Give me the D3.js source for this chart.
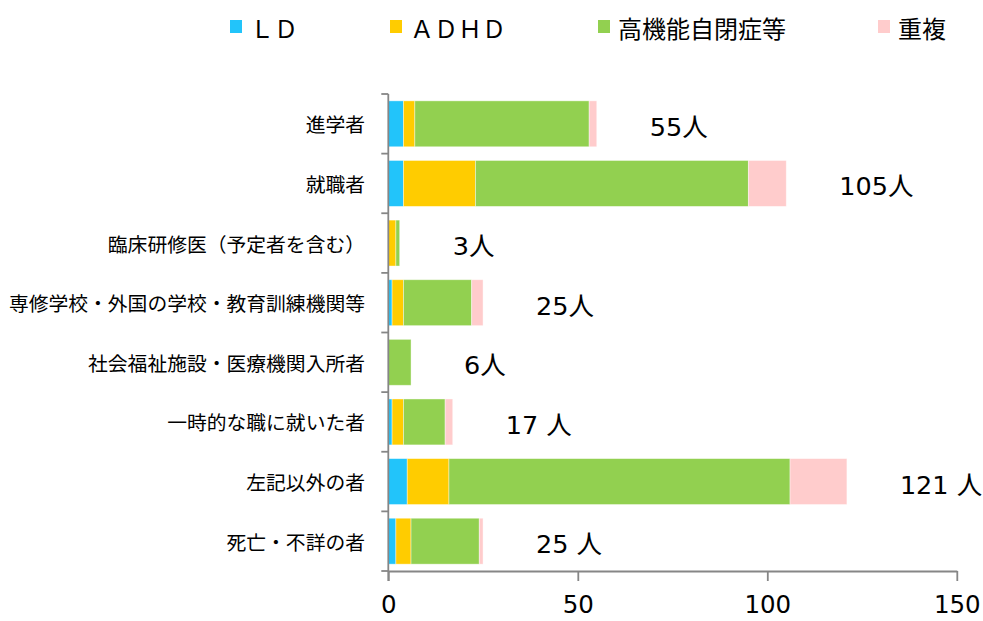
<!DOCTYPE html>
<html><head><meta charset="utf-8">
<script src="https://cdn.jsdelivr.net/npm/d3@7"></script>
<style>
html,body{margin:0;padding:0;background:#fff;}
svg{display:block;}
</style></head>
<body>
<script>
const categories = ["進学者","就職者","臨床研修医（予定者を含む）","専修学校・外国の学校・教育訓練機関等","社会福祉施設・医療機関入所者","一時的な職に就いた者","左記以外の者","死亡・不詳の者"];
const seriesNames = ["ＬＤ","ＡＤＨＤ","高機能自閉症等","重複"];
const ldValues    = [4, 4, 0, 1, 0, 1, 5, 2];
const adhdValues  = [3, 19, 2, 3, 0, 3, 11, 4];
const hfaValues   = [46, 72, 1, 18, 6, 11, 90, 18];
const dupValues   = [2, 10, 0, 3, 0, 2, 15, 1];
const totalLabels = ["55人","105人","3人","25人","6人","17 人","121 人","25 人"];
const xTicks = [0, 50, 100, 150];
const colors = ["#22C4FA","#FFCC00","#92D050","#FFCCCC"];

const W = 983, H = 621;
const svg = d3.select("body").append("svg").attr("width", W).attr("height", H);

const x = d3.scaleLinear().domain([0,150]).range([388.3, 956.8]);
const y = d3.scaleBand().domain(categories).range([94, 571]).paddingInner(0.23).paddingOuter(0.115);

const rows = categories.map((c,i)=>({cat:c, v:[ldValues[i],adhdValues[i],hfaValues[i],dupValues[i]]}));
const keys = [0,1,2,3];
const stack = d3.stack().keys(keys).value((d,k)=>d.v[k]);
const stacked = stack(rows);

const axisColor = "#868686";

// bars
svg.append("g").selectAll("g").data(stacked).join("g")
  .attr("fill",(d,i)=>colors[i])
  .selectAll("rect").data(d=>d).join("rect")
  .attr("x", d=>x(d[0]))
  .attr("y", d=>y(d.data.cat))
  .attr("width", d=>Math.max(0, x(d[1])-x(d[0])))
  .attr("height", y.bandwidth())
  .attr("stroke","#ffffff").attr("stroke-opacity",0.5).attr("stroke-width",0.8);

// y axis line and boundary ticks
const step = y.step();
const y0 = y.range()[0];
svg.append("line").attr("x1",x(0)).attr("x2",x(0)).attr("y1",y0).attr("y2",y.range()[1]+10)
  .attr("stroke",axisColor).attr("stroke-width",1.8);
d3.range(categories.length+1).forEach(i=>{
  svg.append("line").attr("x1",x(0)-7).attr("x2",x(0)).attr("y1",y0+i*step).attr("y2",y0+i*step)
    .attr("stroke",axisColor).attr("stroke-width",1.8);
});

// category labels
svg.append("g").selectAll("text").data(categories).join("text")
  .attr("x", 365).attr("y", d=>y(d)+y.bandwidth()/2)
  .attr("text-anchor","end").attr("dominant-baseline","central")
  .attr("font-family","'Noto Sans CJK JP','Noto Sans',sans-serif").attr("font-size",19.8)
  .attr("fill","#000").text(d=>d);

// x axis
const xAxis = d3.axisBottom(x).tickValues(xTicks).tickSize(10).tickPadding(15).tickSizeOuter(0);
const gx = svg.append("g").attr("transform",`translate(0,${y.range()[1]})`).call(xAxis);
gx.select(".domain").attr("stroke",axisColor).attr("stroke-width",1.8);
gx.selectAll(".tick line").attr("stroke",axisColor).attr("stroke-width",1.8);
gx.selectAll(".tick text").attr("font-family","'DejaVu Sans',Verdana,sans-serif").attr("font-size",24.5).attr("fill","#000");

// total labels
svg.append("g").selectAll("text").data(rows).join("text")
  .attr("x",(d,i)=>x(d3.sum(d.v))+53)
  .attr("y",d=>y(d.cat)+y.bandwidth()/2+3)
  .attr("dominant-baseline","central")
  .attr("font-family","'DejaVu Sans','Noto Sans CJK JP',sans-serif").attr("font-size",25.5)
  .attr("fill","#000").text((d,i)=>totalLabels[i]);

// legend
const legendX = [230, 390, 598, 878];
const lg = svg.append("g");
seriesNames.forEach((n,i)=>{
  lg.append("rect").attr("x",legendX[i]).attr("y",20).attr("width",12).attr("height",13).attr("fill",colors[i]);
  lg.append("text").attr("x",legendX[i]+20).attr("y",27).attr("dominant-baseline","central")
    .attr("font-family","'Noto Sans CJK JP',sans-serif").attr("font-size",24).attr("fill","#000").text(n);
});
</script>
</body></html>
